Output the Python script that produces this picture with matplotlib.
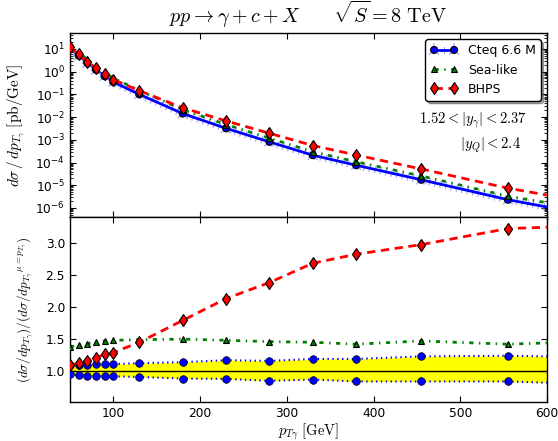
import numpy as np
import matplotlib.pyplot as plt
from matplotlib import patheffects as pe
from matplotlib.ticker import LogLocator, NullFormatter

plt.rcParams['mathtext.fontset'] = 'cm'
plt.rcParams['lines.scale_dashes'] = False

# pT points (last entry 600 is only the end of the curves, no marker)
pt = [50, 60, 70, 80, 90, 100, 130, 180, 230, 280, 330, 380, 455, 555, 600]

# d sigma / d pT [pb/GeV]
cteq = [11.2, 5.1, 2.4, 1.2, 0.63, 0.35, 0.10, 0.0143, 3.2e-3, 8.1e-4,
        2.1e-4, 7.6e-5, 1.74e-5, 2.3e-6, 1.1e-6]
sea = [15.5, 7.1, 3.4, 1.74, 0.93, 0.52, 0.149, 0.0215, 4.7e-3, 1.18e-3,
       3.0e-4, 1.08e-4, 2.56e-5, 3.3e-6, 1.7e-6]
bhps = [12.2, 5.7, 2.8, 1.45, 0.79, 0.45, 0.145, 0.0256, 6.8e-3, 1.93e-3,
        5.6e-4, 2.14e-4, 5.2e-5, 7.4e-6, 3.7e-6]

# ratios to central scale
ratio_sea = [1.38, 1.40, 1.43, 1.45, 1.47, 1.48, 1.49, 1.50, 1.48, 1.46,
             1.45, 1.42, 1.47, 1.42, 1.44]
ratio_bhps = [1.09, 1.125, 1.165, 1.21, 1.26, 1.29, 1.45, 1.79, 2.13, 2.38,
              2.68, 2.82, 2.97, 3.22, 3.24]
ratio_up = [1.09, 1.10, 1.10, 1.11, 1.11, 1.11, 1.125, 1.14, 1.17, 1.16,
            1.19, 1.19, 1.23, 1.24, 1.23]
ratio_down = [0.95, 0.94, 0.93, 0.93, 0.92, 0.92, 0.91, 0.885, 0.88, 0.85,
              0.87, 0.84, 0.84, 0.84, 0.82]

log_ticks = [1e-6, 1e-5, 1e-4, 1e-3, 1e-2, 1e-1, 1e0, 1e1]

mk = list(range(len(pt) - 1))
dashdot = (0, (3, 4, 1, 4))
dashed = (0, (6, 4))
dotted = (0, (1, 2.5))

fig = plt.figure(figsize=(5.58, 4.41), dpi=100)
ax1 = fig.add_axes([0.1254, 0.508, 0.8548, 0.417])
ax2 = fig.add_axes([0.1254, 0.0884, 0.8548, 0.4196], sharex=ax1)

ticked = [pe.TickedStroke(spacing=4, angle=90, length=0.6, foreground='#a0a0ff', linewidth=0.8),
          pe.TickedStroke(spacing=4, angle=-90, length=0.6, foreground='#a0a0ff', linewidth=0.8),
          pe.Normal()]

# top panel
ax1.plot(pt, cteq, color='blue', lw=2, marker='o', ms=5, mec='black', mew=0.8,
         markevery=mk, path_effects=ticked, label='Cteq 6.6 M', zorder=3)
ax1.plot(pt, sea, color='green', lw=2, ls=dashdot, marker='^', ms=5, mec='black',
         mew=0.8, markevery=mk, label='Sea-like', zorder=4)
ax1.plot(pt, bhps, color='red', lw=2, ls=dashed, marker='d', ms=6.5, mec='black',
         mew=0.8, markevery=mk, label='BHPS', zorder=5)
ax1.set_yscale('log')
ax1.set_yticks(log_ticks)
ax1.yaxis.set_minor_locator(LogLocator(base=10, subs=np.arange(2, 10), numticks=20))
ax1.yaxis.set_minor_formatter(NullFormatter())
ax1.set_ylim(4e-7, 50)
ax1.set_xlim(50, 600)
ax1.set_ylabel(r'$d\sigma\,/\,dp_{T_\gamma}\;[\mathrm{pb/GeV}]$', fontsize=11,
               labelpad=6)
ax1.set_title(r'$pp \rightarrow \gamma + c + X \qquad \sqrt{S} = 8\ \mathrm{TeV}$',
              fontsize=14.5, pad=7)
ax1.tick_params(labelbottom=False)
leg = ax1.legend(loc='upper right', fontsize=9, numpoints=2, shadow=True,
                 fancybox=True, framealpha=1, edgecolor='black',
                 handlelength=2.2, borderaxespad=0.5)
leg.get_frame().set_linewidth(1)
ax1.text(0.957, 0.527, r'$1.52 < |y_\gamma| < 2.37$', transform=ax1.transAxes,
         ha='right', va='center', fontsize=10.5)
ax1.text(0.945, 0.391, r'$|y_Q| < 2.4$', transform=ax1.transAxes,
         ha='right', va='center', fontsize=10.5)

# bottom panel
ax2.fill_between(pt, ratio_down, ratio_up, color='yellow', lw=0, zorder=1)
ax2.axhline(1.0, color='black', lw=1, zorder=2)
ax2.plot(pt, ratio_up, color='blue', ls=dotted, lw=1.5, marker='o', ms=5.5,
         mec='black', mew=0.5, markevery=mk, zorder=3)
ax2.plot(pt, ratio_down, color='blue', ls=dotted, lw=1.5, marker='o', ms=5.5,
         mec='black', mew=0.5, markevery=mk, zorder=3)
ax2.plot(pt, ratio_sea, color='green', ls=dashdot, lw=2, marker='^', ms=5,
         mec='black', mew=0.8, markevery=mk, zorder=4)
ax2.plot(pt, ratio_bhps, color='red', ls=dashed, lw=2, marker='d', ms=6.5,
         mec='black', mew=0.8, markevery=mk, zorder=5)
ax2.set_ylim(0.52, 3.4)
ax2.set_yticks([1.0, 1.5, 2.0, 2.5, 3.0])
ax2.set_xticks([100, 200, 300, 400, 500, 600])
ax2.set_xlabel(r'$p_{T\gamma}\;[\mathrm{GeV}]$', fontsize=10.5, labelpad=1)
ax2.set_ylabel(r'$(d\sigma/dp_{T_\gamma})/(d\sigma/dp_{T_\gamma}{}^{\mu=p_{T_\gamma}})$',
               fontsize=9.5, labelpad=7)

for ax in (ax1, ax2):
    ax.tick_params(which='both', direction='in', top=True, right=True,
                   labelsize=8.8)
    ax.tick_params(which='major', length=4)
    ax.tick_params(which='minor', length=2)
    for s in ax.spines.values():
        s.set_linewidth(1)

fig.savefig('out.png', dpi=100)
